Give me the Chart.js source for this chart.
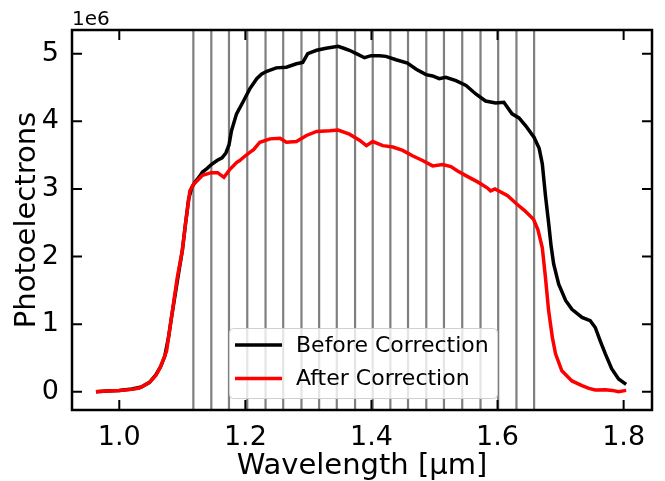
<!DOCTYPE html>
<html>
<head>
<meta charset="utf-8">
<script src="https://cdn.jsdelivr.net/npm/chart.js@4.4.1/dist/chart.umd.min.js"></script>
<style>
  html, body { margin: 0; padding: 0; background: #fff; }
</style>
</head>
<body>
<canvas id="spectrum-chart" width="665" height="481"></canvas>
<script>
// Photoelectrons are in units of 1e6 (the axis shows the "1e6" offset)
const beforeWave = [0.963, 0.98, 1.00, 1.02, 1.035, 1.048, 1.058, 1.066, 1.072, 1.078, 1.082, 1.088, 1.094, 1.100, 1.105,
  1.110, 1.115, 1.120, 1.127, 1.132, 1.139, 1.146, 1.155, 1.163, 1.169, 1.174, 1.178, 1.186, 1.197, 1.207,
  1.218, 1.226, 1.234, 1.249, 1.265, 1.281, 1.291, 1.299, 1.313, 1.328, 1.347, 1.356, 1.365, 1.376, 1.389,
  1.3995, 1.413, 1.423, 1.439, 1.457, 1.471, 1.4865, 1.497, 1.5075, 1.518, 1.534, 1.550, 1.566, 1.581, 1.597,
  1.610, 1.623, 1.634, 1.645, 1.658, 1.666, 1.671, 1.676, 1.681, 1.685, 1.689, 1.697, 1.708, 1.718, 1.734,
  1.747, 1.755, 1.763, 1.771, 1.781, 1.792, 1.804];
const beforeCounts = [0.00, 0.01, 0.02, 0.04, 0.07, 0.14, 0.25, 0.38, 0.52, 0.80, 1.05, 1.40, 1.75, 2.09, 2.48,
  2.85, 3.02, 3.10, 3.18, 3.25, 3.30, 3.36, 3.42, 3.46, 3.53, 3.65, 3.86, 4.11, 4.30, 4.48,
  4.63, 4.70, 4.74, 4.79, 4.80, 4.85, 4.87, 5.00, 5.05, 5.08, 5.11, 5.08, 5.05, 5.00, 4.94,
  4.97, 4.97, 4.96, 4.91, 4.86, 4.77, 4.69, 4.67, 4.63, 4.65, 4.60, 4.53, 4.40, 4.30, 4.27,
  4.28, 4.11, 4.05, 3.93, 3.76, 3.60, 3.37, 2.90, 2.50, 2.15, 1.89, 1.59, 1.35, 1.22, 1.10,
  1.05, 0.95, 0.75, 0.56, 0.34, 0.19, 0.11];

const afterWave = [0.963, 0.98, 1.00, 1.02, 1.032, 1.048, 1.058, 1.065, 1.075, 1.082, 1.092, 1.100, 1.105, 1.112, 1.118,
  1.132, 1.146, 1.156, 1.166, 1.1755, 1.186, 1.191, 1.200, 1.207, 1.213, 1.223, 1.239, 1.255, 1.265, 1.281,
  1.297, 1.313, 1.334, 1.347, 1.365, 1.381, 1.392, 1.402, 1.418, 1.434, 1.4495, 1.465, 1.481, 1.497, 1.513,
  1.526, 1.536, 1.549, 1.569, 1.583, 1.589, 1.596, 1.616, 1.630, 1.643, 1.657, 1.664, 1.671, 1.676, 1.681,
  1.687, 1.692, 1.702, 1.718, 1.734, 1.745, 1.755, 1.771, 1.782, 1.792, 1.804];
const afterCounts = [0.00, 0.01, 0.02, 0.035, 0.055, 0.14, 0.24, 0.36, 0.60, 1.05, 1.69, 2.09, 2.48, 2.97, 3.07,
  3.20, 3.24, 3.24, 3.17, 3.29, 3.39, 3.42, 3.49, 3.54, 3.58, 3.69, 3.74, 3.75, 3.69, 3.70,
  3.79, 3.85, 3.86, 3.87, 3.81, 3.72, 3.64, 3.70, 3.64, 3.62, 3.57, 3.49, 3.42, 3.34, 3.36,
  3.33, 3.27, 3.20, 3.10, 3.02, 2.97, 3.00, 2.90, 2.78, 2.68, 2.55, 2.40, 2.13, 1.69, 1.20,
  0.80, 0.56, 0.31, 0.16, 0.09, 0.05, 0.025, 0.03, 0.02, 0.00, 0.02];

// wavelengths of the gray vertical markers
const markerWaves = [1.1175, 1.146, 1.174, 1.203, 1.232, 1.260, 1.289, 1.317, 1.345, 1.374,
  1.402, 1.430, 1.458, 1.487, 1.515, 1.544, 1.573, 1.601, 1.630, 1.658];

const xTicks = [1.0, 1.2, 1.4, 1.6, 1.8];
const yTicks = [0, 1, 2, 3, 4, 5];

const FONT = '"DejaVu Sans", sans-serif';

function toPoints(xs, ys) {
    return xs.map((x, i) => ({ x: x, y: ys[i] }));
}

const markerLines = {
    id: 'markerLines',
    beforeDatasetsDraw(chart) {
        const { ctx, chartArea: a, scales: { x } } = chart;
        ctx.save();
        ctx.strokeStyle = '#7f7f7f';
        ctx.lineWidth = 2.2;
        ctx.beginPath();
        markerWaves.forEach(w => {
            const px = x.getPixelForValue(w);
            ctx.moveTo(px, a.top);
            ctx.lineTo(px, a.bottom);
        });
        ctx.stroke();
        ctx.restore();
    }
};

const legendBox = {
    id: 'legendBox',
    afterDatasetsDraw(chart) {
        const { ctx } = chart;
        ctx.save();
        ctx.fillStyle = 'rgba(255,255,255,0.8)';
        ctx.strokeStyle = '#d0d0d0';
        ctx.lineWidth = 1;
        ctx.beginPath();
        ctx.roundRect(229.5, 328.5, 268, 70, 4);
        ctx.fill();
        ctx.stroke();
        ctx.font = '22px ' + FONT;
        ctx.textBaseline = 'middle';
        ctx.textAlign = 'left';
        ctx.fillStyle = '#000';
        chart.data.datasets.forEach((ds, i) => {
            const yy = 345 + i * 33.5;
            ctx.strokeStyle = ds.borderColor;
            ctx.lineWidth = 3.5;
            ctx.beginPath();
            ctx.moveTo(235, yy);
            ctx.lineTo(282, yy);
            ctx.stroke();
            ctx.fillText(ds.label, 296, yy + 1);
        });
        ctx.restore();
    }
};

const frameAndTicks = {
    id: 'frameAndTicks',
    afterDraw(chart) {
        const { ctx, chartArea: a, scales: { x, y } } = chart;
        ctx.save();
        ctx.strokeStyle = '#000';
        ctx.lineWidth = 2;
        ctx.beginPath();
        xTicks.forEach(v => {
            const px = x.getPixelForValue(v);
            ctx.moveTo(px, a.bottom); ctx.lineTo(px, a.bottom - 10);
            ctx.moveTo(px, a.top); ctx.lineTo(px, a.top + 10);
        });
        yTicks.forEach(v => {
            const py = y.getPixelForValue(v);
            ctx.moveTo(a.left, py); ctx.lineTo(a.left + 10, py);
            ctx.moveTo(a.right, py); ctx.lineTo(a.right - 10, py);
        });
        ctx.stroke();
        ctx.lineWidth = 2.5;
        ctx.strokeRect(a.left, a.top, a.right - a.left, a.bottom - a.top);
        // offset text of the y axis
        ctx.font = '20px ' + FONT;
        ctx.fillStyle = '#000';
        ctx.textAlign = 'left';
        ctx.textBaseline = 'alphabetic';
        ctx.fillText('1e6', a.left, a.top - 5);
        ctx.restore();
    }
};

const ctx = document.getElementById('spectrum-chart').getContext('2d');
const spectrumChart = new Chart(ctx, {
    type: 'line',
    data: {
        datasets: [{
            label: 'Before Correction',
            data: toPoints(beforeWave, beforeCounts),
            borderColor: '#000000',
            borderWidth: 3.5,
            pointRadius: 0,
            fill: false,
            order: 1
        }, {
            label: 'After Correction',
            data: toPoints(afterWave, afterCounts),
            borderColor: '#ff0000',
            borderWidth: 3.5,
            pointRadius: 0,
            fill: false,
            order: 0
        }]
    },
    options: {
        responsive: false,
        animation: false,
        layout: { padding: { left: 0, right: 13, top: 30, bottom: 0 } },
        plugins: {
            legend: { display: false },
            tooltip: { enabled: false }
        },
        scales: {
            x: {
                type: 'linear',
                min: 0.925,
                max: 1.845,
                grid: { display: false },
                border: { display: false },
                afterBuildTicks: s => { s.ticks = xTicks.map(v => ({ value: v })); },
                afterFit: s => { s.height = 71; },
                ticks: {
                    font: { family: FONT, size: 27 },
                    color: '#000',
                    padding: 4,
                    maxRotation: 0,
                    autoSkip: false,
                    callback: v => v.toFixed(1)
                },
                title: {
                    display: true,
                    text: 'Wavelength [μm]',
                    color: '#000',
                    font: { family: FONT, size: 29, lineHeight: 1 },
                    padding: 0
                }
            },
            y: {
                min: -0.27,
                max: 5.35,
                grid: { display: false },
                border: { display: false },
                afterBuildTicks: s => { s.ticks = yTicks.map(v => ({ value: v })); },
                afterFit: s => { s.width = 72; },
                ticks: {
                    font: { family: FONT, size: 27 },
                    color: '#000',
                    padding: 5,
                    callback: v => String(v)
                },
                title: {
                    display: true,
                    text: 'Photoelectrons',
                    color: '#000',
                    font: { family: FONT, size: 29, lineHeight: 1 },
                    padding: { top: 13, bottom: 0 }
                }
            }
        }
    },
    plugins: [markerLines, legendBox, frameAndTicks]
});
</script>
</body>
</html>
